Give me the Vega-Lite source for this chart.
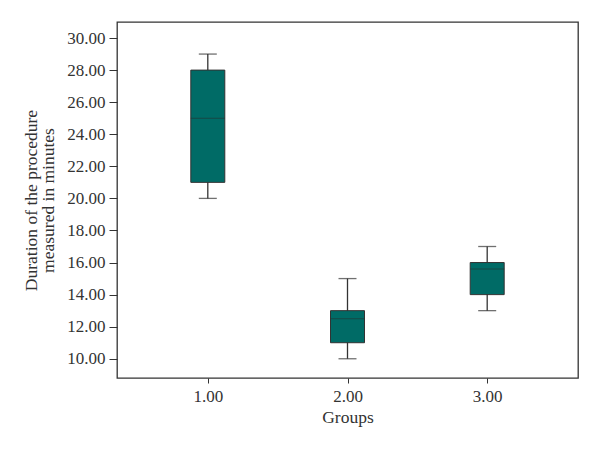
{
  "$schema": "https://vega.github.io/schema/vega-lite/v6.json",
  "width": 461,
  "height": 356,
  "autosize": {"type": "none"},
  "padding": {"left": 117, "top": 22, "right": 22, "bottom": 71},
  "background": "white",
  "config": {
    "view": {"stroke": "#333333", "strokeWidth": 1.3},
    "font": "Liberation Serif",
    "axis": {
      "labelFont": "Liberation Serif",
      "titleFont": "Liberation Serif",
      "labelColor": "#333333",
      "titleColor": "#333333",
      "labelFontSize": 17,
      "titleFontSize": 17.5,
      "titleFontWeight": "normal",
      "domainColor": "#333333",
      "tickColor": "#333333",
      "labelOverlap": false,
      "grid": false
    },
    "axisY": {
      "values": [10, 12, 14, 16, 18, 20, 22, 24, 26, 28, 30],
      "tickCount": 11,
      "format": ".2f",
      "tickSize": 8,
      "labelPadding": 4,
      "labelOverlap": false,
      "titlePadding": 9,
      "titleLineHeight": 17,
      "domain": false
    }
  },
  "data": {
    "values": [
      {"group": "1.00", "min": 20, "q1": 21, "median": 25, "q3": 28, "max": 29},
      {"group": "2.00", "min": 10, "q1": 11, "median": 12.5, "q3": 13, "max": 15},
      {"group": "3.00", "min": 13, "q1": 14, "median": 15.6, "q3": 16, "max": 17}
    ]
  },
  "encoding": {
    "x": {
      "field": "group",
      "type": "ordinal",
      "scale": {"type": "point", "padding": 0.65},
      "axis": {"title": "Groups", "labelAngle": 0, "labelPadding": 5, "tickSize": 5, "titlePadding": 4, "domain": false}
    }
  },
  "layer": [
    {
      "mark": {"type": "rule", "color": "#333333", "strokeWidth": 1.3},
      "encoding": {
        "y": {
          "field": "min",
          "type": "quantitative",
          "scale": {"domain": [8.8, 31.0], "nice": false, "zero": false},
          "axis": {
            "title": ["Duration of the procedure", "measured in minutes"],
            "values": [10, 12, 14, 16, 18, 20, 22, 24, 26, 28, 30],
            "labelOverlap": false
          }
        },
        "y2": {"field": "max"}
      }
    },
    {
      "mark": {"type": "tick", "color": "#333333", "size": 18, "thickness": 1.3},
      "encoding": {"y": {"field": "min", "type": "quantitative", "axis": {"title": ["Duration of the procedure", "measured in minutes"], "values": [10, 12, 14, 16, 18, 20, 22, 24, 26, 28, 30], "labelOverlap": false}}}
    },
    {
      "mark": {"type": "tick", "color": "#333333", "size": 18, "thickness": 1.3},
      "encoding": {"y": {"field": "max", "type": "quantitative", "axis": {"title": ["Duration of the procedure", "measured in minutes"], "values": [10, 12, 14, 16, 18, 20, 22, 24, 26, 28, 30], "labelOverlap": false}}}
    },
    {
      "mark": {"type": "bar", "size": 34, "color": "#006B66", "stroke": "#333333", "strokeWidth": 1},
      "encoding": {
        "y": {"field": "q1", "type": "quantitative", "axis": {"title": ["Duration of the procedure", "measured in minutes"], "values": [10, 12, 14, 16, 18, 20, 22, 24, 26, 28, 30], "labelOverlap": false}},
        "y2": {"field": "q3"}
      }
    },
    {
      "mark": {"type": "tick", "color": "#1f3a38", "size": 34, "thickness": 1},
      "encoding": {"y": {"field": "median", "type": "quantitative", "axis": {"title": ["Duration of the procedure", "measured in minutes"], "values": [10, 12, 14, 16, 18, 20, 22, 24, 26, 28, 30], "labelOverlap": false}}}
    }
  ]
}
